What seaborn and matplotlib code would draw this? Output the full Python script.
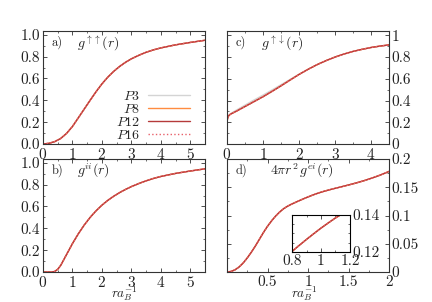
import numpy as np
import matplotlib
matplotlib.use("Agg")
import matplotlib.pyplot as plt
import seaborn as sns
from matplotlib.ticker import MultipleLocator, FormatStrFormatter

# values
r_a = [0, 0.2, 0.4, 0.6, 0.8, 1.0, 1.2, 1.4, 1.6, 1.8, 2.0, 2.2, 2.4, 2.6, 2.8, 3.0,
       3.25, 3.5, 3.75, 4.0, 4.5, 5.0, 5.5]
g_uu = [0, 0.006, 0.022, 0.05, 0.097, 0.16, 0.24, 0.32, 0.40, 0.478, 0.55, 0.612, 0.665,
        0.71, 0.748, 0.78, 0.812, 0.84, 0.862, 0.88, 0.908, 0.93, 0.95]

r_b = [0, 0.3, 0.4, 0.5, 0.6, 0.7, 0.8, 0.9, 1.0, 1.1, 1.2, 1.4, 1.6, 1.8, 2.0, 2.2, 2.4,
       2.6, 2.8, 3.0, 3.25, 3.5, 3.75, 4.0, 4.5, 5.0, 5.5]
g_ii = [0, 0, 0.005, 0.025, 0.06, 0.11, 0.16, 0.21, 0.26, 0.305, 0.35, 0.43, 0.50, 0.56,
        0.612, 0.656, 0.694, 0.727, 0.756, 0.782, 0.81, 0.835, 0.857, 0.875, 0.903, 0.925, 0.945]

r_c = [0, 0.02, 0.05, 0.1, 0.25, 0.5, 0.75, 1.0, 1.25, 1.5, 1.75, 2.0, 2.25, 2.5, 2.75,
       3.0, 3.25, 3.5, 3.75, 4.0, 4.25, 4.5]
g_ud = [0.21, 0.24, 0.262, 0.275, 0.30, 0.345, 0.39, 0.435, 0.484, 0.535, 0.588, 0.64,
        0.687, 0.73, 0.767, 0.80, 0.828, 0.852, 0.871, 0.888, 0.901, 0.912]
g_ud_p3 = [0.21, 0.24, 0.264, 0.28, 0.31, 0.358, 0.405, 0.45, 0.497, 0.546, 0.594, 0.642,
           0.687, 0.73, 0.767, 0.80, 0.828, 0.852, 0.871, 0.888, 0.901, 0.912]

r_d = [0, 0.05, 0.1, 0.15, 0.2, 0.25, 0.3, 0.35, 0.4, 0.45, 0.5, 0.55, 0.6, 0.65, 0.7,
       0.75, 0.8, 0.85, 0.9, 0.95, 1.0, 1.05, 1.1, 1.15, 1.2, 1.3, 1.4, 1.5, 1.6, 1.7,
       1.8, 1.9, 2.0]
g_ei = [0, 0.001, 0.004, 0.009, 0.016, 0.025, 0.035, 0.046, 0.058, 0.07, 0.081, 0.0905,
        0.099, 0.1062, 0.1122, 0.1167, 0.1203, 0.1236, 0.1268, 0.1299, 0.1329, 0.1357,
        0.1384, 0.1408, 0.1430, 0.1469, 0.1504, 0.154, 0.1578, 0.162, 0.1668, 0.172, 0.178]

series = ["P3", "P8", "P12", "P16"]
colors = ["#d4d4d4", "#ff8c40", "#b53a3a", "#e8606a"]
styles = ["-", "-", "-", ":"]

sns.set_theme(style="ticks")
plt.rcParams.update({
    "font.family": "cmr10",
    "mathtext.fontset": "cm",
    "axes.formatter.use_mathtext": True,
    "font.size": 8,
    "axes.edgecolor": "#333333",
    "axes.linewidth": 0.8,
    "xtick.color": "#333333",
    "ytick.color": "#333333",
    "xtick.labelcolor": "#222222",
    "ytick.labelcolor": "#222222",
})

fig = plt.figure(figsize=(4.32, 3.02), dpi=100)
ax_a = fig.add_axes([0.0995, 0.5232, 0.375, 0.3742])
ax_c = fig.add_axes([0.5255, 0.5232, 0.375, 0.3742])
ax_b = fig.add_axes([0.0995, 0.0993, 0.375, 0.3742])
ax_d = fig.add_axes([0.5255, 0.0993, 0.375, 0.3742])
ax_in = fig.add_axes([0.676, 0.1656, 0.134, 0.1225])


def draw(ax, x, ys, legend=False):
    for name, y, c, ls in zip(series, ys, colors, styles):
        sns.lineplot(x=x, y=y, ax=ax, color=c, linestyle=ls, lw=1.0,
                     label=f"${name}$" if legend else None, legend=False)


def style(ax, xmaj, xmin, ymaj, ymin, right=False):
    ax.xaxis.set_major_locator(MultipleLocator(xmaj))
    ax.xaxis.set_minor_locator(MultipleLocator(xmin))
    ax.yaxis.set_major_locator(MultipleLocator(ymaj))
    ax.yaxis.set_minor_locator(MultipleLocator(ymin))
    ax.tick_params(which="both", direction="in", top=True, right=True, pad=2)
    ax.tick_params(which="major", length=3, width=0.6)
    ax.tick_params(which="minor", length=1.5, width=0.5)
    if right:
        ax.yaxis.tick_right()
        ax.tick_params(which="both", left=True)
    ax.set_xlabel("")
    ax.set_ylabel("")


def tag(ax, letter, label, xlab):
    ax.text(0.055, 0.955, letter, transform=ax.transAxes, va="top", fontsize=9)
    ax.text(xlab, 0.975, label, transform=ax.transAxes, va="top", fontsize=10)


draw(ax_a, r_a, [g_uu] * 4, legend=True)
ax_a.set_xlim(0, 5.5)
ax_a.set_ylim(0, 1.035)
style(ax_a, 1, 0.5, 0.2, 0.1)
ax_a.yaxis.set_major_formatter(FormatStrFormatter("%.1f"))
tag(ax_a, "a)", r"$g^{\uparrow\uparrow}(r)$", 0.21)
ax_a.legend(loc="lower right", frameon=False, markerfirst=False, fontsize=10,
            handlelength=3.0, labelspacing=0.0, borderaxespad=0.1, handletextpad=0.6,
            bbox_to_anchor=(0.95, -0.04))

draw(ax_c, r_c, [g_ud_p3, g_ud, g_ud, g_ud])
ax_c.set_xlim(0, 4.5)
ax_c.set_ylim(0, 1.04)
style(ax_c, 1, 0.5, 0.2, 0.1, right=True)
ax_c.yaxis.set_major_formatter(FormatStrFormatter("%g"))
tag(ax_c, "c)", r"$g^{\uparrow\downarrow}(r)$", 0.21)

draw(ax_b, r_b, [g_ii] * 4)
ax_b.set_xlim(0, 5.5)
ax_b.set_ylim(0, 1.035)
style(ax_b, 1, 0.5, 0.2, 0.1)
ax_b.yaxis.set_major_formatter(FormatStrFormatter("%.1f"))
tag(ax_b, "b)", r"$g^{ii}(r)$", 0.21)
ax_b.set_xlabel(r"$ra_B^{-1}$", fontsize=9.5)
ax_b.xaxis.set_label_coords(0.5, -0.112)

draw(ax_d, r_d, [g_ei] * 4)
ax_d.set_xlim(0, 2)
ax_d.set_ylim(0, 0.2)
style(ax_d, 0.5, 0.25, 0.05, 0.025, right=True)
ax_d.set_xticks([0.5, 1, 1.5, 2])
ax_d.xaxis.set_major_formatter(FormatStrFormatter("%g"))
ax_d.yaxis.set_major_formatter(FormatStrFormatter("%g"))
tag(ax_d, "d)", r"$4\pi r^2\, g^{ei}(r)$", 0.265)
ax_d.set_xlabel(r"$ra_B^{-1}$", fontsize=9.5)
ax_d.xaxis.set_label_coords(0.48, -0.112)

draw(ax_in, r_d, [g_ei] * 4)
ax_in.set_xlim(0.8, 1.2)
ax_in.set_ylim(0.12, 0.14)
style(ax_in, 0.2, 0.1, 0.02, 0.005, right=True)
ax_in.xaxis.set_major_formatter(FormatStrFormatter("%g"))
ax_in.yaxis.set_major_formatter(FormatStrFormatter("%g"))
ax_in.tick_params(axis="x", pad=1.5)
for sp in ax_in.spines.values():
    sp.set_color("black")

fig.savefig("out.png", dpi=100)
